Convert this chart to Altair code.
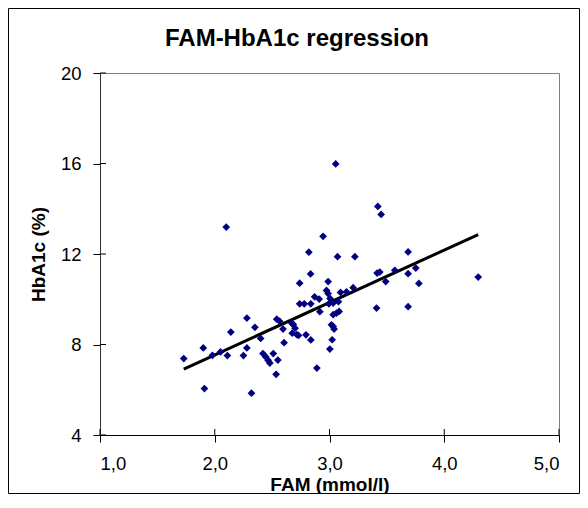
import altair as alt
import pandas as pd

fam = [1.73, 1.90, 1.91, 1.98, 2.05, 2.10, 2.11, 2.14, 2.25, 2.28, 2.28, 2.32, 2.35, 2.40,
       2.42, 2.445, 2.465, 2.48, 2.51, 2.535, 2.55, 2.54, 2.565, 2.595, 2.604, 2.67, 2.675,
       2.685, 2.70, 2.715, 2.73, 2.74, 2.74, 2.78, 2.795, 2.82, 2.835, 2.837, 2.837, 2.87,
       2.89, 2.916, 2.91, 2.944, 2.974, 2.988, 2.988, 2.995, 3.003, 3.005, 3.017, 3.023,
       3.032, 3.04, 3.032, 3.061, 3.084, 3.032, 3.054, 3.07, 3.078, 3.096, 3.148, 3.206,
       3.221, 3.41, 3.415, 3.438, 3.421, 3.45, 3.49, 3.569, 3.685, 3.685, 3.685, 3.752,
       3.779, 4.296]
hba1c = [7.38, 7.85, 6.05, 7.52, 7.67, 13.19, 7.51, 8.55, 7.51, 9.17, 7.85, 5.85, 8.76, 8.27,
         7.60, 7.45, 7.30, 7.18, 7.60, 6.68, 7.31, 9.12, 9.03, 8.68, 8.08, 8.95, 8.50,
         8.88, 8.72, 8.44, 8.40, 9.80, 10.71, 9.80, 8.43, 12.08, 11.12, 9.80, 8.20, 10.11,
         6.96, 9.45, 10.01, 12.78, 10.39, 10.78, 10.25, 9.80, 7.80, 10.03, 8.87, 8.21,
         8.80, 8.68, 9.32, 9.39, 9.46, 9.83, 15.98, 11.88, 9.89, 10.30, 10.33, 10.51,
         11.88, 9.61, 11.16, 11.20, 14.10, 13.75, 10.78, 11.28, 12.09, 11.13, 9.67, 11.38,
         10.70, 10.98]

x_ticks = [1, 2, 3, 4, 5]
y_ticks = [4, 8, 12, 16, 20]
title_text = ["FAM-HbA1c regression"]

W, H = 459, 362
PL, PT, PR, PB = 92, 65, 21, 59

df = pd.DataFrame({"FAM": fam, "HbA1c": hba1c})

xscale = alt.Scale(domain=[1, 5], nice=False, zero=False)
yscale = alt.Scale(domain=[4, 20], nice=False, zero=False)

xaxis = alt.Axis(values=x_ticks, grid=False, tickSize=7, tickColor="black",
                 domainColor="black", labelFont="Liberation Sans", labelFontSize=18.5,
                 labelColor="black", labelPadding=12,
                 labelExpr="replace(format(datum.value, '.1f'), '.', ',')",
                 title="FAM (mmol/l)", titleFont="Liberation Sans", titleFontSize=19,
                 titleFontWeight="bold", titleColor="black", titlePadding=3)
yaxis = alt.Axis(values=y_ticks, grid=False, tickSize=7, tickColor="black",
                 domainColor="#333333", labelFont="Liberation Sans", labelFontSize=18.5,
                 labelColor="black", labelPadding=12,
                 title="HbA1c (%)", titleFont="Liberation Sans", titleFontSize=19,
                 titleFontWeight="bold", titleColor="black", titlePadding=12)

base = alt.Chart(df)

points = base.mark_point(shape="diamond", filled=True, color="#000080", size=60, opacity=1).encode(
    x=alt.X("FAM:Q", scale=xscale, axis=xaxis),
    y=alt.Y("HbA1c:Q", scale=yscale, axis=yaxis),
)

line = base.transform_regression("FAM", "HbA1c").mark_line(color="black", strokeWidth=3).encode(
    x=alt.X("FAM:Q", scale=xscale),
    y=alt.Y("HbA1c:Q", scale=yscale),
)

xt = alt.Chart(pd.DataFrame({"v": x_ticks})).mark_rule(color="black").encode(
    x=alt.X("v:Q", scale=xscale), y=alt.value(H - 6), y2=alt.value(H))
yt = alt.Chart(pd.DataFrame({"v": y_ticks})).mark_rule(color="black").encode(
    y=alt.Y("v:Q", scale=yscale), x=alt.value(0), x2=alt.value(6))

border = alt.Chart(pd.DataFrame({"a": [0]})).mark_rect(
    fill=None, stroke="black", strokeWidth=1).encode(
    x=alt.value(-PL + 0.5), x2=alt.value(W + PR - 0.5),
    y=alt.value(-PT + 0.5), y2=alt.value(H + PB - 0.5))

title = alt.Chart(pd.DataFrame({"t": title_text})).mark_text(
    font="Liberation Sans", fontSize=24, fontWeight="bold", color="black",
    align="center", baseline="alphabetic").encode(
    text="t:N", x=alt.value(197), y=alt.value(-27))

chart = alt.layer(border, line, points, xt, yt, title).properties(
    width=W, height=H,
    padding={"left": PL, "top": PT, "right": PR, "bottom": PB},
    autosize=alt.AutoSizeParams(type="none"),
    background="white",
).configure_view(stroke="#808080", strokeWidth=1)

chart.save("out.html", embed_options={"renderer": "svg", "actions": False})
